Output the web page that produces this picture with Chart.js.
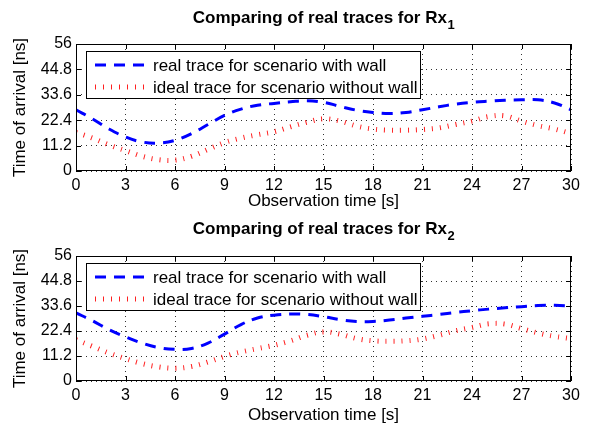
<!DOCTYPE html>
<html><head><meta charset="utf-8">
<script src="https://cdn.jsdelivr.net/npm/chart.js@4/dist/chart.umd.min.js"></script>
<style>
html,body{margin:0;padding:0;background:#fff;}
#wrap{position:relative;width:591px;height:428px;background:#fff;}
.panel{position:absolute;left:0;width:591px;height:214px;}
</style></head><body>
<div id="wrap">
<div class="panel" style="top:0"><canvas id="c1" width="591" height="214"></canvas></div>
<div class="panel" style="top:214px"><canvas id="c2" width="591" height="214"></canvas></div>
</div>
<script>
const timeSeconds = [0,1,2,3,4,5,6,7,8,9,10,11,12,13,14,15,16,17,18,19,20,21,22,23,24,25,26,27,28,29,30];
const rx1RealTrace  = [27,23,18.5,15,12.8,12.3,13.5,16.5,20.5,24.5,27.3,29,29.8,30.5,31,30.3,28.5,26.8,25.8,25.3,25.8,27,28.3,29.5,30.3,30.8,31.2,31.4,31.4,30,27];
const rx1IdealTrace = [17,14.5,11.5,9,6.5,5,4.8,6.5,9.5,12.5,14.5,16,17.3,19.5,21.5,23,22,19.8,18.5,18,18,18.3,19,20.5,22,24,24.3,22,20,18.5,16.5];
const rx2RealTrace  = [30.5,27,23,19.8,17,15,14.2,14.6,17,21,25.3,28.2,29.5,30,29.8,28.8,27.5,26.7,26.7,27.3,28.2,29,29.8,30.7,31.5,32.2,32.8,33.3,33.8,33.9,33.6];
const rx2IdealTrace = [18.5,15.5,12.5,10,7.8,6.3,5.7,6.5,8.5,11,13,14.5,16,18,20.5,22,21,19,18,17.8,18,18.8,20.5,22.5,24,25.6,25.5,23.5,21.5,20,19];
const xTickValues = [0,3,6,9,12,15,18,21,24,27,30];
const yTickValues = [0,11.2,22.4,33.6,44.8,56];
const seriesLabels = ['real trace for scenario with wall','ideal trace for scenario without wall'];
const plotTitles = ['Comparing of real traces for Rx','Comparing of real traces for Rx'];
const plotSubscripts = ['1','2'];
const xAxisTitle = 'Observation time [s]';
const yAxisTitle = 'Time of arrival [ns]';

const FONT = "'Liberation Sans', Arial, Helvetica, sans-serif";

const decorPlugin = {
  id: 'matlabDecor',
  afterDraw(chart, args, opts) {
    const ctx = chart.ctx;
    const {left, top, right, bottom} = chart.chartArea;
    const xs = chart.scales.x, ys = chart.scales.y;
    ctx.save();
    ctx.setLineDash([]);
    ctx.strokeStyle = '#000';
    ctx.lineWidth = 1;
    ctx.strokeRect(left + 0.5, top + 0.5, right - left - 1, bottom - top - 1);
    ctx.beginPath();
    xTickValues.forEach(v => {
      const px = Math.round(xs.getPixelForValue(v)) + 0.5;
      ctx.moveTo(px, bottom); ctx.lineTo(px, bottom - 5);
      ctx.moveTo(px, top); ctx.lineTo(px, top + 5);
    });
    yTickValues.forEach(v => {
      const py = Math.round(ys.getPixelForValue(v)) + 0.5;
      ctx.moveTo(left, py); ctx.lineTo(left + 5, py);
      ctx.moveTo(right, py); ctx.lineTo(right - 5, py);
    });
    ctx.stroke();
    // legend
    const lx = left + 10, ly = top + 7, lw = 334, lh = 47;
    ctx.fillStyle = '#fff';
    ctx.fillRect(lx, ly, lw, lh);
    ctx.strokeRect(lx + 0.5, ly + 0.5, lw, lh);
    chart.data.datasets.forEach((ds, i) => {
      const ry = ly + 14 + i * 22;
      ctx.save();
      ctx.strokeStyle = ds.borderColor;
      ctx.lineWidth = ds.borderWidth;
      ctx.setLineDash(ds.borderDash);
      ctx.lineCap = 'butt';
      ctx.beginPath();
      ctx.moveTo(lx + 9, ry); ctx.lineTo(lx + 61, ry);
      ctx.stroke();
      ctx.restore();
      ctx.fillStyle = '#000';
      ctx.font = '17px ' + FONT;
      ctx.textBaseline = 'middle';
      ctx.textAlign = 'left';
      ctx.fillText(ds.label, lx + 67, ry + 1);
    });
    // title with subscript
    const mainFont = 'bold 17px ' + FONT;
    const subFont = 'bold 13px ' + FONT;
    ctx.font = mainFont;
    const w1 = ctx.measureText(opts.title).width;
    ctx.font = subFont;
    const w2 = ctx.measureText(opts.sub).width;
    const cx = (left + right) / 2;
    const sx = cx - (w1 + w2) / 2;
    ctx.fillStyle = '#000';
    ctx.textAlign = 'left';
    ctx.textBaseline = 'middle';
    ctx.font = mainFont;
    ctx.fillText(opts.title, sx, opts.titleY);
    ctx.font = subFont;
    ctx.fillText(opts.sub, sx + w1 + 0.5, opts.titleY + 7);
    ctx.restore();
  }
};

function makeChart(id, realTrace, idealTrace, idx, padTop, xAxisHeight, titleY) {
  const tickFont = {family: FONT, size: 16};
  const titleFont = {family: FONT, size: 17};
  return new Chart(document.getElementById(id), {
    type: 'line',
    data: {
      datasets: [
        {label: seriesLabels[0], data: timeSeconds.map((t, i) => ({x: t, y: realTrace[i]})),
         borderColor: '#0000ff', borderWidth: 3, borderDash: [11, 8], pointRadius: 0, tension: 0.4, fill: false},
        {label: seriesLabels[1], data: timeSeconds.map((t, i) => ({x: t, y: idealTrace[i]})),
         borderColor: '#ff2020', borderWidth: 5, borderDash: [1, 7], pointRadius: 0, tension: 0.4, fill: false}
      ]
    },
    options: {
      responsive: false, animation: false, devicePixelRatio: 1,
      layout: {padding: {top: padTop, right: 20, left: 0, bottom: 0}},
      plugins: {legend: {display: false}, title: {display: false}, tooltip: {enabled: false},
        matlabDecor: {title: plotTitles[idx], sub: plotSubscripts[idx], titleY: titleY}},
      scales: {
        x: {type: 'linear', min: 0, max: 30,
          afterBuildTicks: s => { s.ticks = xTickValues.map(v => ({value: v})); },
          afterFit: s => { s.height = xAxisHeight; },
          grid: {color: 'rgba(0,0,0,0.8)', lineWidth: 1, drawTicks: false},
          border: {display: false, dash: [1, 4]},
          ticks: {color: '#000', font: tickFont, padding: 5, maxRotation: 0, autoSkip: false, callback: v => String(v)},
          title: {display: true, text: xAxisTitle, color: '#000', font: titleFont, padding: {top: 0, bottom: 2}}},
        y: {type: 'linear', min: 0, max: 56,
          afterBuildTicks: s => { s.ticks = yTickValues.map(v => ({value: v})); },
          afterFit: s => { s.width = 76; },
          grid: {color: 'rgba(0,0,0,0.8)', lineWidth: 1, drawTicks: false},
          border: {display: false, dash: [1, 4]},
          ticks: {color: '#000', font: tickFont, padding: 4, autoSkip: false, callback: v => String(v)},
          title: {display: true, text: yAxisTitle, color: '#000', font: titleFont, padding: {top: 10, bottom: 0}}}
      }
    },
    plugins: [decorPlugin]
  });
}

makeChart('c1', rx1RealTrace, rx1IdealTrace, 0, 44, 43, 18);
makeChart('c2', rx2RealTrace, rx2IdealTrace, 1, 42, 47, 15);
</script>
</body></html>
